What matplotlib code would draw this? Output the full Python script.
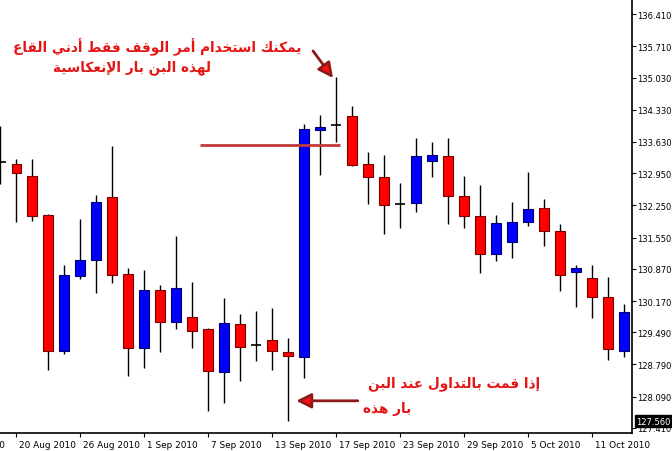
import numpy as np
import matplotlib
matplotlib.use("Agg")
import matplotlib.pyplot as plt
import matplotlib.transforms as mtransforms


# --- data: daily bars, 19 Aug .. 13 Oct 2010 ---

opens = [133.19, 133.15, 132.89, 132.04, 129.08, 130.71, 131.06, 132.43, 130.76, 129.15,
         130.41, 129.71, 129.82, 129.56, 128.63, 129.67, 129.21, 129.32, 129.06, 128.95,
         133.89, 134.00, 134.19, 133.15, 132.87, 132.28, 132.30, 133.21, 133.32, 132.45,
         132.02, 131.19, 131.45, 131.89, 132.19, 131.69, 130.80, 130.67, 130.26, 129.08]
highs = [133.98, 133.26, 133.26, 132.06, 130.95, 131.95, 132.47, 133.54, 130.89, 130.85,
         130.52, 131.58, 130.58, 129.58, 130.24, 129.89, 129.95, 130.02, 129.37, 134.02,
         134.21, 135.04, 134.41, 133.41, 133.34, 132.74, 133.71, 133.63, 133.71, 132.89,
         132.69, 132.04, 132.32, 132.97, 132.39, 131.84, 130.95, 130.95, 130.69, 130.11]
lows = [132.71, 131.89, 131.91, 128.67, 129.02, 130.65, 130.34, 130.56, 128.54, 128.71,
        129.06, 129.56, 129.15, 127.78, 127.95, 128.43, 128.87, 128.67, 127.56, 128.50,
        132.91, 133.63, 133.11, 132.28, 131.63, 131.76, 132.11, 132.87, 131.85, 131.76,
        130.78, 131.04, 131.11, 131.80, 131.37, 130.39, 130.04, 129.80, 128.89, 128.95]
closes = [133.19, 132.95, 132.02, 129.08, 130.74, 131.06, 132.32, 130.74, 129.15, 130.41,
          129.71, 130.45, 129.52, 128.65, 129.69, 129.17, 129.21, 129.08, 128.97, 133.91,
          133.95, 134.00, 133.13, 132.87, 132.26, 132.28, 133.32, 133.34, 132.45, 132.02,
          131.19, 131.87, 131.89, 132.17, 131.69, 130.74, 130.89, 130.26, 129.13, 129.93]

# date labels every 4th bar (bar index -> label); the first one sits left of the view
date_idx = [-3, 1, 5, 9, 13, 17, 21, 25, 29, 33, 37]
date_labels = ["16 Aug 2010", "20 Aug 2010", "26 Aug 2010", "1 Sep 2010", "7 Sep 2010",
               "13 Sep 2010", "17 Sep 2010", "23 Sep 2010", "29 Sep 2010", "5 Oct 2010",
               "11 Oct 2010"]

price_ticks = [136.410, 135.710, 135.030, 134.330, 133.630, 132.950, 132.250, 131.550,
               130.870, 130.170, 129.490, 128.790, 128.090, 127.410]
last_price = 127.560

# annotations (bar index, price)
stop_line_x = (12.5, 21.25)
stop_line_y = 133.56
top_arrow_from = (19.55, 135.61)
top_arrow_to = (20.8, 135.02)
low_arrow_from = (22.35, 128.00)
low_arrow_to = (18.5, 128.00)

top_text = ["يمكنك استخدام أمر الوقف فقط أدني القاع", "لهذه البن بار الإنعكاسية"]
low_text = ["إذا قمت بالتداول عند البن", "بار هذه"]


# --- tiny arabic shaper: matplotlib has no bidi/shaping, so map letters to
#     their contextual presentation forms and reverse into visual order ---

FORMS = {
    "ا": ("\uFE8D", "\uFE8E", None, None),
    "أ": ("\uFE83", "\uFE84", None, None),
    "إ": ("\uFE87", "\uFE88", None, None),
    "ب": ("\uFE8F", "\uFE90", "\uFE91", "\uFE92"),
    "ة": ("\uFE93", "\uFE94", None, None),
    "ت": ("\uFE95", "\uFE96", "\uFE97", "\uFE98"),
    "خ": ("\uFEA5", "\uFEA6", "\uFEA7", "\uFEA8"),
    "د": ("\uFEA9", "\uFEAA", None, None),
    "ذ": ("\uFEAB", "\uFEAC", None, None),
    "ر": ("\uFEAD", "\uFEAE", None, None),
    "س": ("\uFEB1", "\uFEB2", "\uFEB3", "\uFEB4"),
    "ط": ("\uFEC1", "\uFEC2", "\uFEC3", "\uFEC4"),
    "ع": ("\uFEC9", "\uFECA", "\uFECB", "\uFECC"),
    "ف": ("\uFED1", "\uFED2", "\uFED3", "\uFED4"),
    "ق": ("\uFED5", "\uFED6", "\uFED7", "\uFED8"),
    "ك": ("\uFED9", "\uFEDA", "\uFEDB", "\uFEDC"),
    "ل": ("\uFEDD", "\uFEDE", "\uFEDF", "\uFEE0"),
    "م": ("\uFEE1", "\uFEE2", "\uFEE3", "\uFEE4"),
    "ن": ("\uFEE5", "\uFEE6", "\uFEE7", "\uFEE8"),
    "ه": ("\uFEE9", "\uFEEA", "\uFEEB", "\uFEEC"),
    "و": ("\uFEED", "\uFEEE", None, None),
    "ي": ("\uFEF1", "\uFEF2", "\uFEF3", "\uFEF4"),
    "لإ": ("\uFEF9", "\uFEFA", None, None),
    "لأ": ("\uFEF7", "\uFEF8", None, None),
    "لا": ("\uFEFB", "\uFEFC", None, None),
}


def shape(text):
    toks = []
    i = 0
    while i < len(text):
        if text[i:i + 2] in ("لا", "لأ", "لإ"):
            toks.append(text[i:i + 2])
            i += 2
        else:
            toks.append(text[i])
            i += 1
    out = []
    for k, t in enumerate(toks):
        if t not in FORMS:
            out.append(t)
            continue
        iso, fin, ini, med = FORMS[t]
        prev = toks[k - 1] if k > 0 else None
        nxt = toks[k + 1] if k + 1 < len(toks) else None
        join_prev = prev in FORMS and FORMS[prev][2] is not None
        join_next = ini is not None and nxt in FORMS
        if join_prev and join_next:
            out.append(med)
        elif join_prev:
            out.append(fin)
        elif join_next:
            out.append(ini)
        else:
            out.append(iso)
    return "".join(out)[::-1]


# --- draw ---

plt.rcParams["font.family"] = ["DejaVu Sans"]

fig = plt.figure(figsize=(6.72, 4.52), dpi=100)
ax = fig.add_axes([0, 18 / 452, 632 / 672, 434 / 452])

x = np.arange(len(opens))
o = np.array(opens)
c = np.array(closes)
up = c > o
down = c < o
flat = c == o

ax.vlines(x, lows, highs, color="black", lw=1, zorder=1)
body_lo = np.minimum(o, c)
body_h = np.maximum(np.abs(c - o), 0.04)
ax.bar(x[down], body_h[down], bottom=body_lo[down], width=0.62,
       color="#ff0000", edgecolor="#7a0000", lw=0.8, zorder=2)
ax.bar(x[up], body_h[up], bottom=body_lo[up], width=0.62,
       color="#0000ff", edgecolor="#000070", lw=0.8, zorder=2)
ax.hlines(o[flat], x[flat] - 0.32, x[flat] + 0.32, color="black", lw=1.2, zorder=2)

# stop-loss level line and arrows
ax.hlines(stop_line_y, *stop_line_x, color="#c23a3a", lw=2, zorder=3)
for start, end in [(top_arrow_from, top_arrow_to), (low_arrow_from, low_arrow_to)]:
    ax.annotate("", xy=end, xytext=start,
                arrowprops=dict(arrowstyle="-|>,head_length=0.9,head_width=0.45",
                                color="#8b1a1a", lw=2, shrinkA=0, shrinkB=0,
                                fc="#ff1010"), zorder=4)

red = "#e51515"
ax.text(0.8, 135.72, shape(top_text[0]), color=red, fontsize=9.8, fontweight="bold",
        ha="left", va="center")
ax.text(3.3, 135.26, shape(top_text[1]), color=red, fontsize=9.8, fontweight="bold",
        ha="left", va="center")
ax.text(23.0, 128.39, shape(low_text[0]), color=red, fontsize=9.8, fontweight="bold",
        ha="left", va="center")
ax.text(22.7, 127.84, shape(low_text[1]), color=red, fontsize=9.8, fontweight="bold",
        ha="left", va="center")

for side in ["left", "top"]:
    ax.spines[side].set_visible(False)
ax.spines["right"].set_linewidth(1.2)
ax.spines["bottom"].set_linewidth(1.2)

ax.yaxis.tick_right()
ax.set_yticks(price_ticks)
ax.set_yticklabels([f"{p:.3f}" for p in price_ticks])
ax.tick_params(axis="y", direction="out", length=3, pad=1, labelsize=6.0,
               colors="black")

ax.set_xticks(date_idx[1:])
ax.set_xticklabels(date_labels[1:])
ax.tick_params(axis="x", direction="out", length=3, pad=2, labelsize=6.4, colors="black")
shift = mtransforms.ScaledTranslation(2 / 72, 0, fig.dpi_scale_trans)
for lbl in ax.get_xticklabels():
    lbl.set_ha("left")
    lbl.set_transform(lbl.get_transform() + shift)

# limits after the ticks so nothing widens the view
ax.set_xlim(-0.03, 39.5)
ax.set_ylim(127.30, 136.74)

# the partly hidden label left of the view
ax.annotate(date_labels[0], xy=(date_idx[0], 0), xycoords=("data", "axes fraction"),
            xytext=(-3, -5), textcoords="offset points", ha="left", va="top",
            fontsize=6.4, annotation_clip=False)

# current price marker
ax.text(1.006, last_price, f"{last_price:.3f}", transform=ax.get_yaxis_transform(),
        color="white", fontsize=6.0, ha="left", va="center",
        bbox=dict(boxstyle="square,pad=0.15", fc="black", ec="black"), clip_on=False,
        zorder=5)

fig.savefig("out.png", dpi=100)
